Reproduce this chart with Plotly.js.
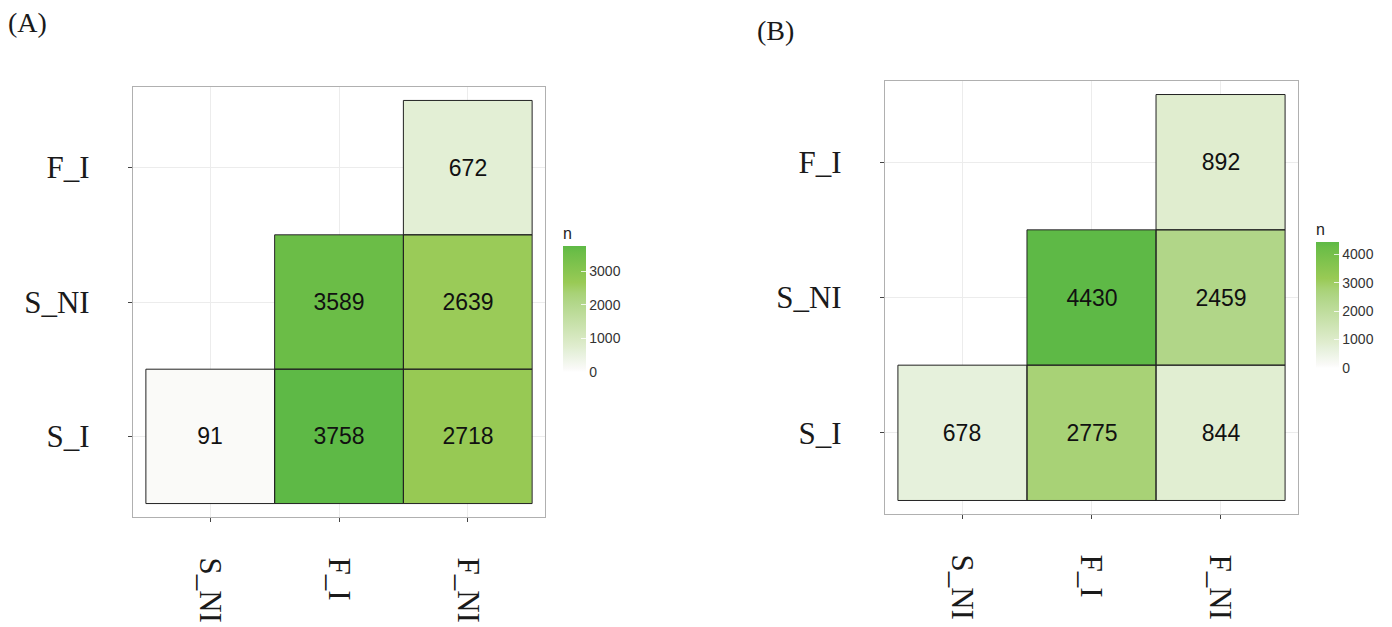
<!DOCTYPE html>
<html>
<head>
<meta charset="utf-8">
<script src="https://cdn.plot.ly/plotly-3.0.1.min.js"></script>
<style>html,body{margin:0;padding:0;background:#fff;}#chart{width:1392px;height:627px;}</style>
</head>
<body>
<div id="chart"></div>
<script>
// ---- data ----
const xCats = ['S_NI', 'F_I', 'F_NI'];
const yCats = ['S_I', 'S_NI', 'F_I'];
const zA = [
  [91, 3758, 2718],
  [null, 3589, 2639],
  [null, null, 672]
];
const zB = [
  [678, 2775, 844],
  [null, 4430, 2459],
  [null, null, 892]
];
const panelLabels = ['(A)', '(B)'];
const cbTicksA = [0, 1000, 2000, 3000];
const cbTicksB = [0, 1000, 2000, 3000, 4000];
const colorTitle = 'n';

// ---- styling ----
const greenScale = [
  [0, '#ffffff'], [0.025, '#fafaf8'], [0.16, '#e5f0da'], [0.2, '#e0edcf'],
  [0.555, '#b1d688'], [0.626, '#a8d276'], [0.71, '#99ca55'],
  [0.955, '#6bbd47'], [1, '#5eb946']
];
const serif = 'Liberation Serif, Times New Roman, serif';
const sans = 'Liberation Sans, Arial, sans-serif';

function maxOf(z) { let m = 0; z.forEach(r => r.forEach(v => { if (v != null && v > m) m = v; })); return m; }

function heat(z, xa, ya, ticks, cbx, cby) {
  return {
    type: 'heatmap', x: xCats, y: yCats, z: z, xaxis: xa, yaxis: ya,
    zmin: 0, zmax: maxOf(z), colorscale: greenScale, hoverongaps: false,
    texttemplate: '%{z}', textfont: {family: sans, size: 23, color: '#111'},
    colorbar: {
      x: cbx, xanchor: 'left', xpad: 0, y: cby, yanchor: 'middle', ypad: 0,
      len: 148, lenmode: 'pixels', thickness: 23, outlinewidth: 0,
      tickvals: ticks, ticks: 'inside', ticklen: 5, tickcolor: 'rgba(255,255,255,0.8)',
      tickfont: {family: sans, size: 14, color: '#333'},
      title: {text: colorTitle, side: 'top', font: {family: sans, size: 16, color: '#222'}}
    }
  };
}

function borders(z, xa, ya) {
  const s = [];
  z.forEach((row, j) => row.forEach((v, i) => {
    if (v != null) s.push({type: 'rect', xref: xa, yref: ya, x0: i - 0.5, x1: i + 0.5, y0: j - 0.5, y1: j + 0.5,
      line: {color: '#222', width: 1}, fillcolor: 'rgba(0,0,0,0)'});
  }));
  return s;
}

function xax(dom) {
  return {domain: dom, type: 'category', range: [-0.6, 2.6], showgrid: true, gridcolor: '#ececec', gridwidth: 1,
    zeroline: false, ticks: 'outside', ticklen: 4, tickcolor: '#444', tickangle: 90,
    tickfont: {family: serif, size: 31, color: '#1a1a1a'}, showline: true, mirror: true,
    linecolor: '#b0b0b0', linewidth: 1.2, ticklabelstandoff: 29, fixedrange: true};
}
function yax(dom) {
  return {domain: dom, type: 'category', range: [-0.6, 2.6], showgrid: true, gridcolor: '#ececec', gridwidth: 1,
    zeroline: false, ticks: 'outside', ticklen: 4, tickcolor: '#444',
    tickfont: {family: serif, size: 31, color: '#1a1a1a'}, showline: true, mirror: true,
    linecolor: '#b0b0b0', linewidth: 1.2, ticklabelstandoff: 32, fixedrange: true};
}

const W = 1392, H = 627;
const data = [
  heat(zA, 'x', 'y', cbTicksA, 563 / W, 1 - 298 / H),
  heat(zB, 'x2', 'y2', cbTicksB, 1316 / W, 1 - 294 / H)
];

const layout = {
  width: W, height: H, margin: {l: 0, r: 0, t: 0, b: 0},
  paper_bgcolor: '#fff', plot_bgcolor: '#fff', showlegend: false,
  xaxis: Object.assign(xax([133 / W, 545 / W]), {anchor: 'y'}),
  yaxis: Object.assign(yax([1 - 517 / H, 1 - 87 / H]), {anchor: 'x'}),
  xaxis2: Object.assign(xax([885 / W, 1298 / W]), {anchor: 'y2'}),
  yaxis2: Object.assign(yax([1 - 514 / H, 1 - 81 / H]), {anchor: 'x2'}),
  shapes: borders(zA, 'x', 'y').concat(borders(zB, 'x2', 'y2')),
  annotations: [
    {text: panelLabels[0], xref: 'paper', yref: 'paper', x: 6 / W, y: 1 - 22 / H, xanchor: 'left', yanchor: 'middle',
      showarrow: false, font: {family: serif, size: 28, color: '#1a1a1a'}},
    {text: panelLabels[1], xref: 'paper', yref: 'paper', x: 755 / W, y: 1 - 30 / H, xanchor: 'left', yanchor: 'middle',
      showarrow: false, font: {family: serif, size: 28, color: '#1a1a1a'}}
  ]
};

Plotly.newPlot('chart', data, layout, {displayModeBar: false, staticPlot: true});
</script>
</body>
</html>
